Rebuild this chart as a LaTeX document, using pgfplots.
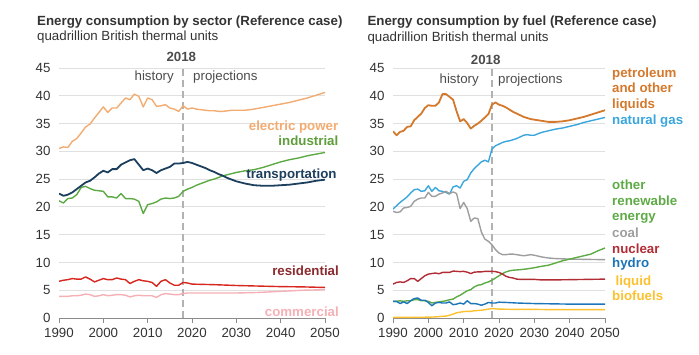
\documentclass[border=0pt]{standalone}
\usepackage{fontspec}
\setmainfont{Liberation Sans}
\usepackage{pgfplots}
\pgfplotsset{compat=1.18}
\definecolor{celec}{HTML}{F2AC72}
\definecolor{cind}{HTML}{5DAA45}
\definecolor{cindl}{HTML}{5E9F3C}
\definecolor{ctrans}{HTML}{1D3F5E}
\definecolor{cres}{HTML}{D7261E}
\definecolor{cresl}{HTML}{8B2B2F}
\definecolor{ccom}{HTML}{F5B0B5}
\definecolor{cpet}{HTML}{D4782C}
\definecolor{cng}{HTML}{3AA6DD}
\definecolor{cren}{HTML}{5EAB46}
\definecolor{ccoal}{HTML}{9E9E9E}
\definecolor{cnuc}{HTML}{B22C36}
\definecolor{chyd}{HTML}{1C75B8}
\definecolor{cbio}{HTML}{FDC130}
\definecolor{ctxt}{HTML}{333333}
\newcommand{\fs}{\fontsize{13.3}{13.3}\selectfont}
\pgfplotsset{eia/.style={
  scale only axis, height=250pt,
  xmin=1990, xmax=2050, ymin=0, ymax=45,
  xtick={1990,2000,...,2050}, ytick={0,5,...,45},
  axis x line*=bottom, axis y line*=left,
  x axis line style={-, draw=black!45, line width=0.8pt},
  y axis line style={draw=none},
  tick align=outside, major tick length=5pt,
  xtick style={draw=black!45, line width=0.8pt},
  ytick style={draw=none},
  ymajorgrids, grid style={draw=black!12, line width=0.8pt},
  tick label style={font=\fs, text=ctxt},
  xticklabel style={yshift=-2pt},
  /pgf/number format/assume math mode=true,
  /pgf/number format/1000 sep={},
  every axis plot/.append style={line width=1.4pt, no markers, line join=round},
}}
\newcommand{\lab}{\bfseries\fontsize{13.3}{15.7}\selectfont}
\begin{document}
\begin{tikzpicture}[x=1pt,y=1pt]
\path[use as bounding box] (0,0) rectangle (699,354);
% ---------- left panel ----------
\begin{axis}[eia, width=266pt, at={(59pt,36pt)}, anchor=south west]
\addplot[draw=black!30, line width=1.8pt, dash pattern=on 7pt off 4pt] coordinates {(2018,0)(2018,45)};
\addplot[celec] coordinates {(1990,30.5)(1991,30.8)(1992,30.7)(1993,31.8)(1994,32.3)(1995,33.3)(1996,34.4)(1997,34.9)(1998,36.0)(1999,37.0)(2000,38.0)(2001,37.0)(2002,37.8)(2003,37.8)(2004,38.7)(2005,39.6)(2006,39.3)(2007,40.3)(2008,39.9)(2009,38.0)(2010,39.6)(2011,39.3)(2012,38.1)(2013,38.2)(2014,38.4)(2015,37.8)(2016,37.6)(2017,37.2)(2018,38.2)(2019,37.6)(2020,37.8)(2021,37.6)(2022,37.5)(2023,37.4)(2024,37.3)(2025,37.3)(2026,37.2)(2027,37.2)(2028,37.3)(2029,37.4)(2030,37.4)(2032,37.4)(2034,37.6)(2036,37.9)(2038,38.2)(2040,38.5)(2042,38.8)(2044,39.2)(2046,39.6)(2048,40.1)(2050,40.6)};
\addplot[cind] coordinates {(1990,21.1)(1991,20.7)(1992,21.5)(1993,21.6)(1994,22.2)(1995,23.5)(1996,23.7)(1997,23.3)(1998,23.0)(1999,22.9)(2000,22.8)(2001,21.8)(2002,21.8)(2003,21.6)(2004,22.4)(2005,21.5)(2006,21.5)(2007,21.4)(2008,21.0)(2009,18.8)(2010,20.4)(2011,20.6)(2012,20.9)(2013,21.4)(2014,21.6)(2015,21.5)(2016,21.6)(2017,21.9)(2018,22.8)(2019,23.2)(2020,23.5)(2021,23.9)(2022,24.2)(2023,24.5)(2024,24.8)(2025,25.0)(2026,25.3)(2027,25.6)(2028,25.8)(2029,26.0)(2030,26.2)(2032,26.5)(2034,26.7)(2036,27.1)(2038,27.6)(2040,28.1)(2042,28.5)(2044,28.8)(2046,29.2)(2048,29.5)(2050,29.8)};
\addplot[ctrans, line width=1.8pt] coordinates {(1990,22.4)(1991,22.0)(1992,22.2)(1993,22.6)(1994,23.2)(1995,23.8)(1996,24.4)(1997,24.7)(1998,25.3)(1999,26.0)(2000,26.5)(2001,26.2)(2002,26.8)(2003,26.8)(2004,27.6)(2005,28.0)(2006,28.4)(2007,28.6)(2008,27.6)(2009,26.6)(2010,26.9)(2011,26.6)(2012,26.1)(2013,26.6)(2014,26.9)(2015,27.2)(2016,27.8)(2017,27.8)(2018,27.9)(2019,28.1)(2020,27.9)(2021,27.6)(2022,27.3)(2023,27.0)(2024,26.6)(2025,26.3)(2026,25.9)(2027,25.6)(2028,25.2)(2029,24.9)(2030,24.6)(2032,24.2)(2034,23.9)(2036,23.8)(2038,23.8)(2040,23.9)(2042,24.0)(2044,24.2)(2046,24.4)(2048,24.7)(2050,24.9)};
\addplot[cres] coordinates {(1990,6.6)(1991,6.8)(1992,6.9)(1993,7.1)(1994,7.0)(1995,7.0)(1996,7.4)(1997,7.0)(1998,6.5)(1999,6.8)(2000,7.1)(2001,6.9)(2002,6.9)(2003,7.2)(2004,7.0)(2005,6.9)(2006,6.2)(2007,6.6)(2008,6.9)(2009,6.7)(2010,6.6)(2011,6.4)(2012,5.7)(2013,6.6)(2014,6.9)(2015,6.3)(2016,5.9)(2017,5.9)(2018,6.4)(2019,6.3)(2020,6.1)(2025,6.0)(2030,5.85)(2035,5.75)(2040,5.65)(2045,5.6)(2050,5.5)};
\addplot[ccom] coordinates {(1990,3.9)(1991,3.9)(1992,3.9)(1993,4.0)(1994,4.0)(1995,4.1)(1996,4.3)(1997,4.2)(1998,3.9)(1999,4.0)(2000,4.2)(2001,4.0)(2002,4.1)(2003,4.2)(2004,4.2)(2005,4.1)(2006,3.8)(2007,4.0)(2008,4.1)(2009,4.0)(2010,4.0)(2011,4.0)(2012,3.7)(2013,4.2)(2014,4.4)(2015,4.3)(2016,4.2)(2017,4.2)(2018,4.4)(2019,4.5)(2020,4.5)(2025,4.5)(2030,4.5)(2035,4.6)(2040,4.8)(2045,5.0)(2050,5.1)};
\end{axis}
% ---------- right panel ----------
\begin{axis}[eia, width=212pt, at={(393pt,36pt)}, anchor=south west]
\addplot[draw=black!30, line width=1.8pt, dash pattern=on 7pt off 4pt] coordinates {(2018,0)(2018,45)};
\addplot[cpet, line width=1.8pt] coordinates {(1990,33.6)(1991,32.9)(1992,33.5)(1993,33.7)(1994,34.4)(1995,34.5)(1996,35.6)(1997,36.2)(1998,36.8)(1999,37.8)(2000,38.3)(2001,38.2)(2002,38.2)(2003,38.8)(2004,40.3)(2005,40.3)(2006,39.8)(2007,39.3)(2008,37.2)(2009,35.4)(2010,35.8)(2011,35.1)(2012,34.1)(2013,34.6)(2014,35.0)(2015,35.5)(2016,36.1)(2017,36.7)(2018,38.4)(2019,38.8)(2020,38.4)(2021,38.2)(2022,37.9)(2023,37.5)(2024,37.1)(2025,36.8)(2026,36.5)(2027,36.2)(2028,36.0)(2029,35.8)(2030,35.7)(2032,35.5)(2034,35.3)(2036,35.3)(2038,35.4)(2040,35.6)(2042,35.9)(2044,36.2)(2046,36.6)(2048,37.0)(2050,37.4)};
\addplot[cng] coordinates {(1990,19.6)(1991,20.2)(1992,20.8)(1993,21.3)(1994,21.8)(1995,22.5)(1996,23.1)(1997,23.2)(1998,22.8)(1999,22.9)(2000,23.8)(2001,22.8)(2002,23.5)(2003,22.9)(2004,22.8)(2005,22.6)(2006,22.3)(2007,23.6)(2008,23.8)(2009,23.4)(2010,24.6)(2011,24.9)(2012,26.1)(2013,26.9)(2014,27.5)(2015,28.1)(2016,28.4)(2017,28.1)(2018,30.4)(2019,31.0)(2020,31.3)(2021,31.6)(2022,31.8)(2023,31.9)(2024,32.1)(2025,32.3)(2026,32.6)(2027,32.9)(2028,33.0)(2029,32.9)(2030,32.9)(2032,33.4)(2034,33.7)(2036,34.0)(2038,34.2)(2040,34.5)(2042,34.8)(2044,35.2)(2046,35.5)(2048,35.8)(2050,36.1)};
\addplot[ccoal] coordinates {(1990,19.2)(1991,19.0)(1992,19.1)(1993,19.8)(1994,19.9)(1995,20.1)(1996,21.0)(1997,21.4)(1998,21.6)(1999,21.6)(2000,22.6)(2001,21.9)(2002,21.9)(2003,22.3)(2004,22.5)(2005,22.8)(2006,22.4)(2007,22.7)(2008,22.4)(2009,19.7)(2010,20.8)(2011,19.7)(2012,17.4)(2013,18.0)(2014,17.9)(2015,15.5)(2016,14.2)(2017,13.8)(2018,13.2)(2019,12.3)(2020,11.7)(2021,11.4)(2022,11.4)(2023,11.5)(2024,11.5)(2025,11.4)(2026,11.3)(2027,11.2)(2028,11.3)(2029,11.4)(2030,11.3)(2032,11.0)(2034,10.8)(2036,10.7)(2038,10.65)(2040,10.6)(2045,10.55)(2050,10.5)};
\addplot[cren] coordinates {(1990,3.0)(1991,3.0)(1992,3.1)(1993,3.0)(1994,3.1)(1995,3.1)(1996,3.3)(1997,3.3)(1998,3.1)(1999,3.1)(2000,3.0)(2001,2.7)(2002,2.8)(2003,2.9)(2004,3.0)(2005,3.1)(2006,3.3)(2007,3.4)(2008,3.8)(2009,4.1)(2010,4.5)(2011,4.9)(2012,5.1)(2013,5.6)(2014,5.9)(2015,6.0)(2016,6.3)(2017,6.5)(2018,6.8)(2019,7.2)(2020,7.6)(2021,8.0)(2022,8.3)(2023,8.5)(2024,8.6)(2025,8.65)(2026,8.7)(2028,8.85)(2030,9.05)(2032,9.3)(2034,9.5)(2036,9.9)(2038,10.3)(2040,10.6)(2042,10.9)(2044,11.2)(2046,11.5)(2048,12.1)(2050,12.6)};
\addplot[cnuc] coordinates {(1990,6.1)(1991,6.4)(1992,6.5)(1993,6.4)(1994,6.7)(1995,7.1)(1996,7.1)(1997,6.6)(1998,7.1)(1999,7.6)(2000,7.9)(2001,8.0)(2002,8.1)(2003,7.96)(2004,8.2)(2005,8.2)(2006,8.2)(2007,8.45)(2008,8.4)(2009,8.35)(2010,8.4)(2011,8.25)(2012,8.0)(2013,8.25)(2014,8.3)(2015,8.3)(2016,8.4)(2017,8.4)(2018,8.4)(2019,8.35)(2020,8.2)(2021,7.9)(2022,7.5)(2023,7.3)(2024,7.2)(2025,7.0)(2026,6.95)(2028,6.95)(2030,6.95)(2032,6.85)(2035,6.85)(2040,6.9)(2045,6.95)(2050,7.0)};
\addplot[chyd] coordinates {(1990,3.0)(1991,3.0)(1992,2.6)(1993,2.9)(1994,2.6)(1995,3.1)(1996,3.5)(1997,3.6)(1998,3.2)(1999,3.2)(2000,2.8)(2001,2.2)(2002,2.7)(2003,2.8)(2004,2.7)(2005,2.7)(2006,2.9)(2007,2.4)(2008,2.5)(2009,2.7)(2010,2.5)(2011,3.1)(2012,2.6)(2013,2.6)(2014,2.5)(2015,2.3)(2016,2.5)(2017,2.8)(2018,2.7)(2019,2.7)(2020,2.85)(2022,2.8)(2025,2.7)(2030,2.6)(2035,2.55)(2040,2.5)(2045,2.5)(2050,2.5)};
\addplot[cbio] coordinates {(1990,0.1)(1995,0.12)(2000,0.15)(2002,0.2)(2003,0.25)(2004,0.3)(2005,0.35)(2006,0.5)(2007,0.7)(2008,0.95)(2009,1.05)(2010,1.15)(2011,1.2)(2012,1.2)(2013,1.3)(2014,1.35)(2015,1.4)(2016,1.5)(2017,1.6)(2018,1.7)(2019,1.65)(2020,1.6)(2025,1.55)(2030,1.55)(2035,1.5)(2040,1.5)(2045,1.5)(2050,1.5)};
\end{axis}
% ---------- texts ----------
\begin{scope}[every node/.style={inner sep=0pt, text=ctxt}]
\node[anchor=west, font=\bfseries\fs] at (37,332.3) {Energy consumption by sector (Reference case)};
\node[anchor=west, font=\fs] at (37,316.7) {quadrillion British thermal units};
\node[anchor=west, font=\bfseries\fs] at (367.3,331.7) {Energy consumption by fuel (Reference case)};
\node[anchor=west, font=\fs] at (367.3,316.3) {quadrillion British thermal units};
\node[font=\bfseries\fs, text=black!70] at (181.3,297.3) {2018};
\node[font=\bfseries\fs, text=black!70] at (485.7,294) {2018};
\node[anchor=east, font=\fs, text=black!70] at (174,277.3) {history};
\node[anchor=west, font=\fs, text=black!70] at (193,277.3) {projections};
\node[anchor=east, font=\fs, text=black!70] at (479,274) {history};
\node[anchor=west, font=\fs, text=black!70] at (498,274) {projections};
% left labels
\node[anchor=east, font=\lab, text=celec] at (338.5,227) {electric power};
\node[anchor=east, font=\lab, text=cindl] at (338.5,213.3) {industrial};
\node[anchor=east, font=\lab, text=ctrans] at (336.7,179) {transportation};
\node[anchor=east, font=\lab, text=cresl] at (339,83) {residential};
\node[anchor=east, font=\lab, text=ccom] at (339,42.3) {commercial};
% right labels
\node[anchor=west, align=left, font=\lab, text=cpet] at (612,264.7) {petroleum\\and other\\liquids};
\node[anchor=west, font=\lab, text=cng] at (612,233) {natural gas};
\node[anchor=west, align=left, font=\lab, text=cren] at (612,152.3) {other\\renewable\\energy};
\node[anchor=west, font=\lab, text=ccoal] at (612,121.3) {coal};
\node[anchor=west, font=\lab, text=cnuc] at (612,105.7) {nuclear};
\node[anchor=west, font=\lab, text=chyd] at (612,89.7) {hydro};
\node[anchor=west, align=left, font=\lab, text=cbio] at (612,65.7) {\hspace*{3.5pt}liquid\\biofuels};
\end{scope}
\end{tikzpicture}
\end{document}
